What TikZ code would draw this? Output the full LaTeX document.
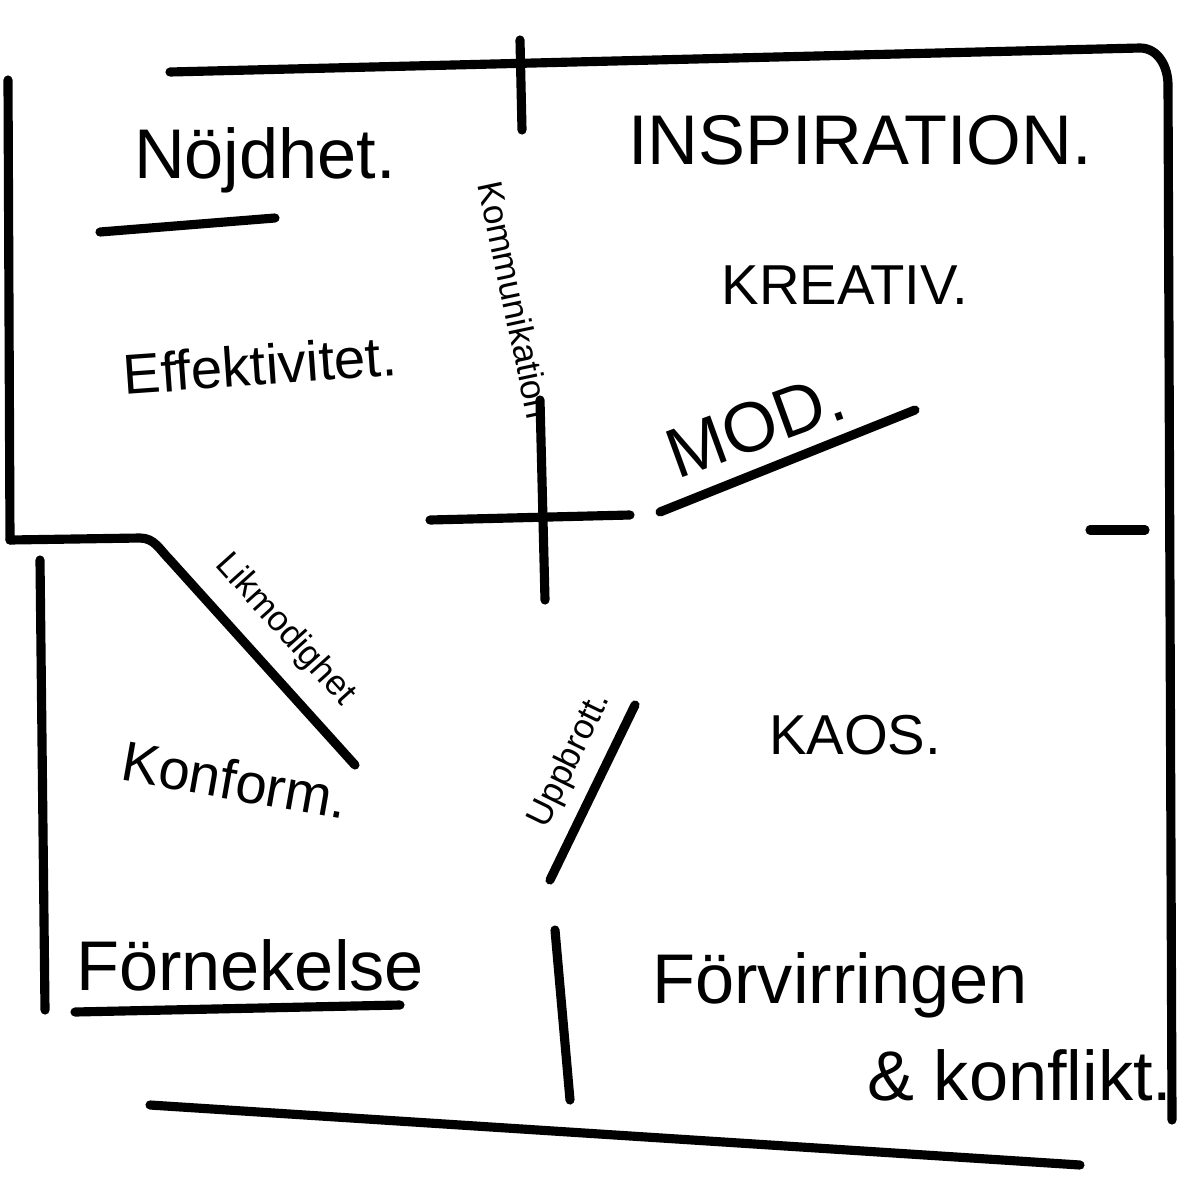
\documentclass[tikz,border=0pt]{standalone}
\usepackage{fontspec}
\setmainfont{Liberation Sans}
\begin{document}
\begin{tikzpicture}[x=0.01cm,y=-0.01cm,line cap=round,
  pen/.style={line width=2.6pt},
  big/.style={font=\fontsize{20}{24}\selectfont},
  mid/.style={font=\fontsize{16}{19}\selectfont},
  small/.style={font=\fontsize{10}{12}\selectfont}]
\useasboundingbox (0,0) rectangle (1200,1200);

% Frame
\draw[pen] (170,72) -- (1140,48) to[out=0,in=90] (1168,85) -- (1172,1120);
\draw[pen] (8,80) -- (10,540);
\draw[pen] (40,560) -- (45,1010);
\draw[pen] (150,1105) -- (1080,1165);

% Axes
\draw[pen] (520,40) -- (522,130);
\draw[pen] (430,520) -- (630,515);
\draw[pen] (540,400) -- (545,600);
\draw[pen] (10,540) -- (140,538) to[out=0,in=135] (170,560) -- (355,765);
\draw[pen] (1090,530) -- (1145,530);
\draw[pen] (635,705) -- (550,880);
\draw[pen] (555,930) -- (570,1100);

% Quadrant labels
\node[big] (nojd) at (265,160) {Nöjdhet.};
\draw[pen] (100,232) -- (275,218);
\node[big] (insp) at (860,140) {INSPIRATION.};
\node[mid] (krea) at (845,285) {KREATIV.};
\node[mid,rotate=4] (effe) at (260,365) {Effektivitet.};
\node[big,rotate=20] (mod) at (755,425) {MOD.};
\draw[pen] (660,512) -- (915,410);
\node[mid] (kaos) at (855,735) {KAOS.};
\node[mid,rotate=-10] (konf) at (235,780) {Konform.};
\node[big] (forn) at (250,965) {Förnekelse};
\draw[pen] (75,1012) -- (400,1005);
\node[big] (forv) at (840,985) {Förvirringen};
\node[big] (konfl) at (1020,1075) {\& konflikt.};

% Labels along the axes
\node[small,rotate=-78] (komm) at (515,300) {Kommunikation};
\node[small,rotate=-48] (likm) at (285,630) {Likmodighet};
\node[small,rotate=64] (uppb) at (570,760) {Uppbrott.};
\end{tikzpicture}
\end{document}
